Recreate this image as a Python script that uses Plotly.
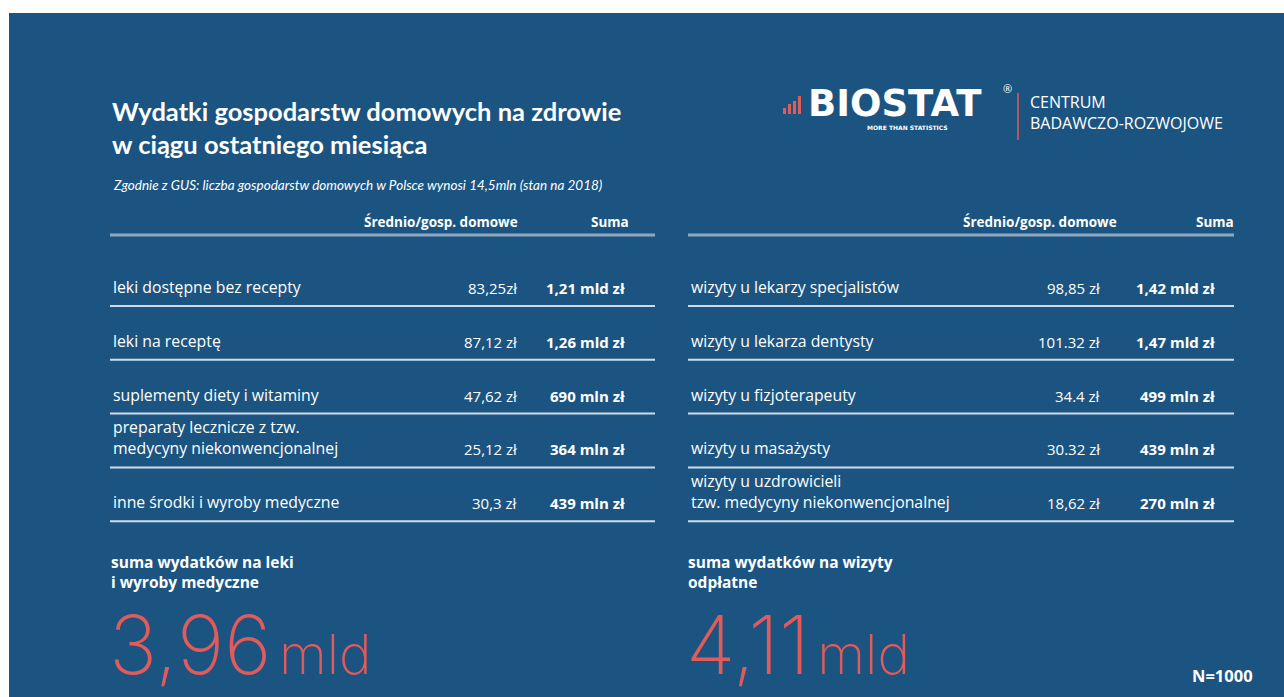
import plotly.graph_objects as go

# --- data -------------------------------------------------------------
title = "Wydatki gospodarstw domowych na zdrowie<br>w ciągu ostatniego miesiąca"
note = "Zgodnie z GUS: liczba gospodarstw domowych w Polsce wynosi 14,5mln (stan na 2018)"
col_headers = ["Średnio/gosp. domowe", "Suma"]

left_labels = [
    "leki dostępne bez recepty",
    "leki na receptę",
    "suplementy diety i witaminy",
    "preparaty lecznicze z tzw.<br>medycyny niekonwencjonalnej",
    "inne środki i wyroby medyczne",
]
left_avg = ["83,25zł", "87,12 zł", "47,62 zł", "25,12 zł", "30,3 zł"]
left_sum = ["1,21 mld zł", "1,26 mld zł", "690 mln zł", "364 mln zł", "439 mln zł"]

right_labels = [
    "wizyty u lekarzy specjalistów",
    "wizyty u lekarza dentysty",
    "wizyty u fizjoterapeuty",
    "wizyty u masażysty",
    "wizyty u uzdrowicieli<br>tzw. medycyny niekonwencjonalnej",
]
right_avg = ["98,85 zł", "101.32 zł", "34.4 zł", "30.32 zł", "18,62 zł"]
right_sum = ["1,42 mld zł", "1,47 mld zł", "499 mln zł", "439 mln zł", "270 mln zł"]

total_labels = ["suma wydatków na leki<br>i wyroby medyczne", "suma wydatków na wizyty<br>odpłatne"]
total_values = ["3,96", "4,11"]
total_unit = "mld"
sample = "N=1000"

# --- style ------------------------------------------------------------
W, H = 1284, 697
BG = "#1c5481"
RED = "#e25b5b"
LINE = "#cfdbe8"
HEAD_LINE = "#8ea8c2"
FONT = "Open Sans"
TITLE_FONT = "Lato"

fig = go.Figure()
fig.update_layout(
    width=W, height=H,
    margin=dict(l=0, r=0, t=0, b=0),
    paper_bgcolor="white", plot_bgcolor="white",
    showlegend=False,
    xaxis=dict(range=[0, W], visible=False, fixedrange=True),
    yaxis=dict(range=[H, 0], visible=False, fixedrange=True),
)

shapes = [dict(type="rect", x0=9, x1=W, y0=13, y1=H, fillcolor=BG, line_width=0, layer="below")]
ann = []


def text(x, y, s, size, color="white", weight=400, xanchor="left", yanchor="middle",
         family=FONT, style="normal"):
    ann.append(dict(x=x, y=y, xref="x", yref="y", text=s, showarrow=False,
                    xanchor=xanchor, yanchor=yanchor, align="left",
                    font=dict(family=family, size=size, color=color, weight=weight, style=style)))


# header
text(110, 127, title, 25.5, weight=700, family=TITLE_FONT)
text(111, 185, note, 13.5, style="italic", family=TITLE_FONT)

# logo
for bx, h in [(783, 6), (788, 10), (793, 13), (798, 18)]:
    shapes.append(dict(type="rect", x0=bx, x1=bx + 3, y0=114 - h, y1=114,
                       fillcolor=RED, line_width=0))
text(806, 103, "BIOSTAT", 37, weight=700, family="DejaVu Sans")
text(907, 127, "MORE THAN STATISTICS", 6, weight=700, xanchor="center", family="DejaVu Sans")
text(1001, 88, "®", 11)
shapes.append(dict(type="line", x0=1018, x1=1018, y0=93, y1=140, line=dict(color=RED, width=1.5)))
text(1028, 112, "CENTRUM<br>BADAWCZO-ROZWOJOWE", 16)


# two tables
def table(x0, x1, avg_right, sum_right, labels, avgs, sums, head_avg_c, head_sum_c):
    text(head_avg_c, 222, col_headers[0], 13.5, weight=700, xanchor="center")
    text(head_sum_c, 222, col_headers[1], 13.5, weight=700, xanchor="center")
    shapes.append(dict(type="line", x0=x0, x1=x1, y0=235, y1=235,
                       line=dict(color=HEAD_LINE, width=3)))
    for i, (lab, a, s) in enumerate(zip(labels, avgs, sums)):
        yl = 306 + 53.8 * i
        text(x0 + 1, yl - 6, lab, 15.8, yanchor="bottom")
        text(avg_right, yl - 6, a, 15, xanchor="right", yanchor="bottom")
        text(sum_right, yl - 6, s, 15, weight=700, xanchor="right", yanchor="bottom")
        shapes.append(dict(type="line", x0=x0, x1=x1, y0=yl, y1=yl,
                           line=dict(color=LINE, width=2)))


table(110, 655, 519, 627, left_labels, left_avg, left_sum, 441, 610)
table(688, 1234, 1102, 1217, right_labels, right_avg, right_sum, 1040, 1215)

# totals
for x, lab, val in zip([109, 686], total_labels, total_values):
    text(x, 572, lab, 15.5, weight=700)
    text(x - 2, 645, f"{val}\u200a<span style='font-size:55px'>{total_unit}</span>", 81,
         color=RED, weight=200, family="Inter")

text(1255, 675, sample, 16.5, weight=700, xanchor="right")

fig.update_layout(shapes=shapes, annotations=ann)
fig.write_html("out.html", config={"displayModeBar": False},
               post_script="document.body.style.margin='0';")
